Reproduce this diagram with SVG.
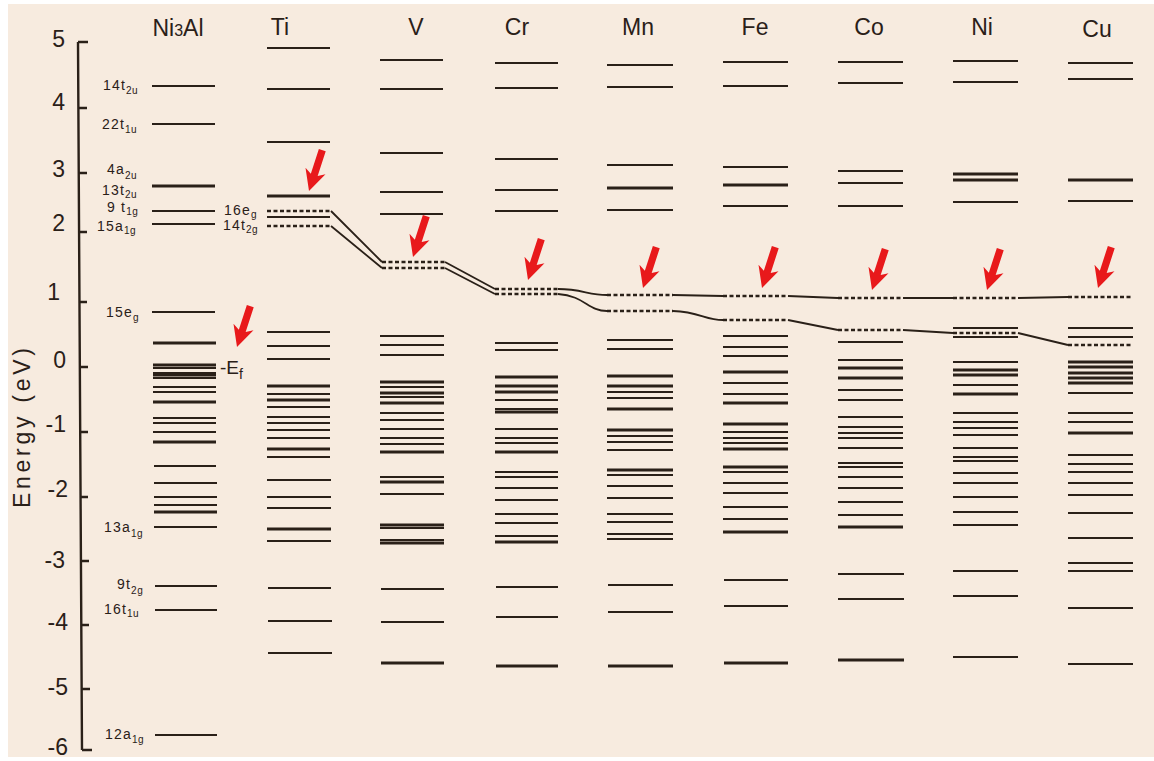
<svg xmlns="http://www.w3.org/2000/svg" xmlns:xlink="http://www.w3.org/1999/xlink" width="1154" height="761" viewBox="0 0 1154 761">
<style>
.l{stroke:#2a2018;stroke-width:2;fill:none}
.t{stroke:#2a2018;stroke-width:3.2;fill:none}
.d{stroke:#2a2018;stroke-width:2.6;fill:none;stroke-dasharray:4 2.5}
.c{stroke:#2a2018;stroke-width:1.8;fill:none}
.ax{stroke:#2a2018;stroke-width:2.4;fill:none}
.num{font-family:"Liberation Sans",Arial,sans-serif;font-size:23px;fill:#2a2018;text-anchor:end}
.hd{font-family:"Liberation Sans",Arial,sans-serif;font-size:23px;fill:#2a2018;text-anchor:middle}
.lb{font-family:"Liberation Sans",Arial,sans-serif;font-size:14px;fill:#2a2018;letter-spacing:1.2px}
.sb{font-size:10px;letter-spacing:0.5px}
.arr{fill:#e8191b}
</style>
<defs>
<path id="arrow" d="M0 0 L-10.5 -21 L-3.6 -17 L-3.6 -43 L3.6 -43 L3.6 -17 L10.5 -21 Z"/>
</defs>
<rect x="0" y="0" width="1154" height="761" fill="#ffffff"/>
<rect x="8" y="4" width="1146" height="753" fill="#f7ebdf"/>

<g id="axis">
<path class="ax" d="M78 42 L82 750 M78 42 H88 M78.2 108 H87 M78.4 173 H87 M78.7 232 H87 M79 302 H87 M79.4 367 H88 M79.8 432 H88 M80.2 497 H88 M80.6 561 H89 M81 625 H89 M81.4 689 H90 M82 750 H92"/>
<text class="num" x="65" y="47">5</text>
<text class="num" x="65" y="110">4</text>
<text class="num" x="65" y="177">3</text>
<text class="num" x="65" y="231">2</text>
<text class="num" x="60" y="300">1</text>
<text class="num" x="66" y="368">0</text>
<text class="num" x="66" y="432">-1</text>
<text class="num" x="68" y="497">-2</text>
<text class="num" x="65" y="568">-3</text>
<text class="num" x="68" y="630">-4</text>
<text class="num" x="68" y="695">-5</text>
<text class="num" x="68" y="755">-6</text>
<text font-family="Liberation Sans, Arial, sans-serif" font-size="23" fill="#2a2018" text-anchor="middle" transform="translate(30 428) rotate(-90)" textLength="160" lengthAdjust="spacing">Energy (eV)</text>
</g>

<g id="col-Ni3Al">
<text class="hd" x="178" y="36">Ni<tspan font-size="16">3</tspan>Al</text>
<path class="l" d="M152 86H215M152 124H215M152 211H215M152 224H215M152 312H215M153 368H216M153 373H216M153 378H216M153 387H216M153 392H216M153 418H216M153 423H216M153 432H216M154 466H216M154 483H217M154 497H217M154 505H217M154 527H217M155 586H217M155 610H217M155 735H217"/>
<path class="t" d="M152 186H215M153 343H216M153 365H216M153 375H216M153 402H216M153 442H216M154 512H217"/>
<text class="lb" x="103" y="90">14t<tspan class="sb" dy="4">2u</tspan></text>
<text class="lb" x="102" y="129">22t<tspan class="sb" dy="4">1u</tspan></text>
<text class="lb" x="107" y="174">4a<tspan class="sb" dy="5">2u</tspan></text>
<text class="lb" x="102" y="195">13t<tspan class="sb" dy="3">2u</tspan></text>
<text class="lb" x="107" y="212">9 t<tspan class="sb" dy="3">1g</tspan></text>
<text class="lb" x="97" y="231">15a<tspan class="sb" dy="3">1g</tspan></text>
<text class="lb" x="106" y="317">15e<tspan class="sb" dy="4">g</tspan></text>
<text class="lb" x="104" y="532">13a<tspan class="sb" dy="5">1g</tspan></text>
<text class="lb" x="117" y="589">9t<tspan class="sb" dy="5">2g</tspan></text>
<text class="lb" x="104" y="614">16t<tspan class="sb" dy="3">1u</tspan></text>
<text class="lb" x="105" y="739">12a<tspan class="sb" dy="4">1g</tspan></text>
<text font-family="Liberation Sans, Arial, sans-serif" font-size="19" fill="#2a2018" x="220" y="374">-E<tspan font-size="14" dy="5">f</tspan></text>
<use xlink:href="#arrow" class="arr" transform="translate(237 347) rotate(18)"/>
</g>

<g id="col-Ti">
<text class="hd" x="280" y="35">Ti</text>
<path class="l" d="M267 48H330M267 89H330M267 142H330M267 217H330M267 332H330M267 346H330M267 359H330M267 394H330M267 407H330M267 417H330M267 423H330M267 430H330M267 438H330M267 457H330M267 480H331M267 497H331M267 508H331M267 541H331M268 588H331M268 621H332M268 653H332"/>
<path class="t" d="M267 196H330M267 386H330M267 400H330M267 449H330M267 529H331"/>
<path class="d" d="M267 211H330M267 226H330"/>
<text class="lb" x="224" y="215">16e<tspan class="sb" dy="3">g</tspan></text>
<text class="lb" x="223" y="230">14t<tspan class="sb" dy="3">2g</tspan></text>
<use xlink:href="#arrow" class="arr" transform="translate(309 191) rotate(18)"/>
</g>

<g id="col-V">
<text class="hd" x="416" y="35">V</text>
<path class="l" d="M380 60H443M380 89H443M380 153H443M380 192H443M380 214H443M380 336H444M380 345H444M380 355H444M380 387H444M380 397H444M380 413H444M380 420H444M380 429H444M380 438H444M380 444H444M380 477H444M380 494H444M380 528H444M380 540H444M381 589H444M381 622H444"/>
<path class="t" d="M380 382H444M380 393H444M380 403H444M380 452H444M380 482H444M380 525H444M380 543H444M381 663H444"/>
<path class="d" d="M382 262H445M382 268H445"/>
<use xlink:href="#arrow" class="arr" transform="translate(413 257) rotate(18)"/>
</g>

<g id="col-Cr">
<text class="hd" x="517" y="35">Cr</text>
<path class="l" d="M495 63H558M495 88H558M495 159H558M495 190H558M495 211H558M495 343H558M495 350H558M495 400H558M495 409H558M495 429H558M495 438H558M495 443H558M495 472H558M495 477H558M495 488H558M495 500H558M495 514H558M495 523H558M495 536H558M496 587H558M496 617H558"/>
<path class="t" d="M495 377H558M495 386H558M495 392H558M495 412H558M495 452H558M495 542H558M496 666H558"/>
<path class="d" d="M495 289H558M495 294H558"/>
<use xlink:href="#arrow" class="arr" transform="translate(528 280) rotate(18)"/>
</g>

<g id="col-Mn">
<text class="hd" x="638" y="35">Mn</text>
<path class="l" d="M607 65H673M607 87H673M607 165H673M607 210H673M607 340H673M607 349H673M607 392H673M607 398H673M607 436H673M607 442H673M607 450H673M607 475H673M607 486H673M607 498H673M607 514H673M607 522H673M607 534H673M607 539H673M608 585H673M608 612H673"/>
<path class="t" d="M607 188H673M607 376H673M607 386H673M607 409H673M607 430H673M607 470H673M608 666H673"/>
<path class="d" d="M607 295H673M607 311H673"/>
<use xlink:href="#arrow" class="arr" transform="translate(643 288) rotate(18)"/>
</g>

<g id="col-Fe">
<text class="hd" x="755" y="35">Fe</text>
<path class="l" d="M723 62H788M723 86H788M723 167H788M723 206H788M723 336H788M723 347H788M723 356H788M723 383H788M723 394H788M723 432H788M723 438H788M723 443H788M723 472H788M723 483H788M723 493H788M723 507H788M723 519H788M724 580H788M724 606H788"/>
<path class="t" d="M723 185H788M723 372H788M723 403H788M723 424H788M723 449H788M723 467H788M723 532H788M724 663H788"/>
<path class="d" d="M723 296H788M723 320H788"/>
<use xlink:href="#arrow" class="arr" transform="translate(762 288) rotate(18)"/>
</g>

<g id="col-Co">
<text class="hd" x="869" y="35">Co</text>
<path class="l" d="M838 62H903M838 83H903M838 171H903M838 183H903M838 206H903M838 342H903M838 360H903M838 390H903M838 400H903M838 417H903M838 427H903M838 433H903M838 438H903M838 448H903M838 463H903M838 467H903M838 477H903M838 488H903M838 502H903M838 515H903M838 574H904M838 599H904"/>
<path class="t" d="M838 368H903M838 378H903M838 527H903M838 660H904"/>
<path class="d" d="M838 298H903M838 330H903"/>
<use xlink:href="#arrow" class="arr" transform="translate(872 290) rotate(18)"/>
</g>

<g id="col-Ni">
<text class="hd" x="982" y="35">Ni</text>
<path class="l" d="M953 61H1018M953 82H1018M953 202H1018M953 328H1018M953 337H1018M953 362H1018M953 385H1018M953 413H1018M953 422H1018M953 428H1018M953 435H1018M953 448H1018M953 457H1018M953 461H1018M953 473H1018M953 483H1018M953 497H1018M953 512H1018M953 525H1018M953 571H1018M953 596H1018M953 657H1018"/>
<path class="t" d="M953 174H1018M953 180H1018M953 370H1018M953 375H1018M953 394H1018"/>
<path class="d" d="M953 298H1018M953 333H1018"/>
<use xlink:href="#arrow" class="arr" transform="translate(987 290) rotate(18)"/>
</g>

<g id="col-Cu">
<text class="hd" x="1097" y="37">Cu</text>
<path class="l" d="M1068 63H1133M1068 79H1133M1068 201H1133M1068 328H1133M1068 337H1133M1068 393H1133M1068 413H1133M1068 422H1133M1068 455H1133M1068 464H1133M1068 472H1133M1068 483H1133M1068 495H1133M1068 513H1133M1068 538H1133M1068 563H1133M1068 571H1133M1068 608H1133M1068 664H1133"/>
<path class="t" d="M1068 180H1133M1068 362H1133M1068 367H1133M1068 373H1133M1068 378H1133M1068 383H1133M1068 433H1133"/>
<path class="d" d="M1068 297H1133M1068 345H1133"/>
<use xlink:href="#arrow" class="arr" transform="translate(1098 288) rotate(18)"/>
</g>

<g id="connectors">
<path class="c" d="M331 211 L382 262 M445 262 L495 289 M558 289 C582 289 588 295 607 295 M673 295 L723 296 M788 296 L838 298 M903 298 L953 298 M1018 298 L1068 297"/>
<path class="c" d="M331 226 L382 268 M445 268 L495 294 M558 294 C585 296 588 311 607 311 M673 311 C700 312 705 320 723 320 M788 320 L838 330 M903 330 L953 333 M1018 333 L1068 345"/>
</g>
</svg>
